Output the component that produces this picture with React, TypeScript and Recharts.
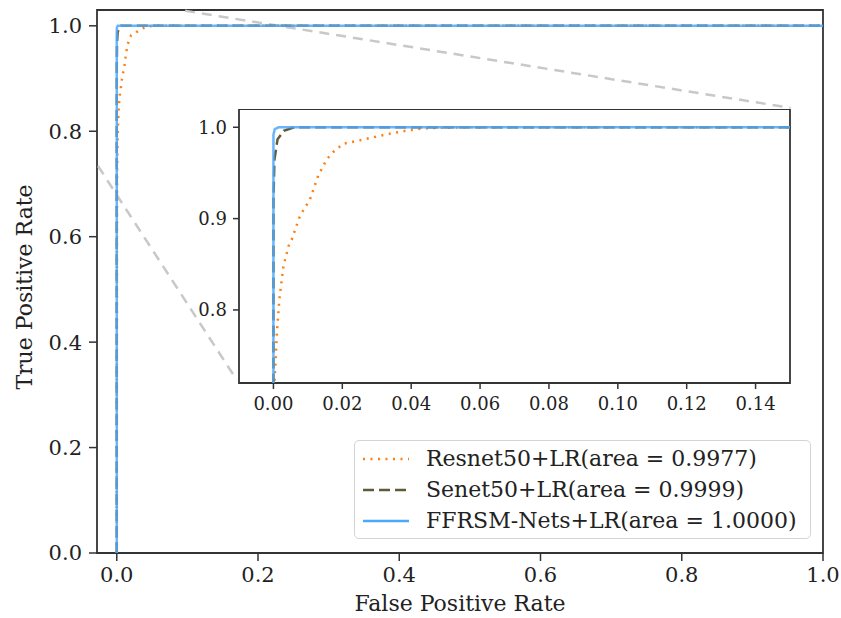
import React from 'react'
import { LineChart, Line, XAxis, YAxis, ReferenceArea, ReferenceLine, Legend } from 'recharts'

// ROC points (fpr, tpr)
const resnetFpr = [0, 0, 0.0003, 0.001, 0.0017, 0.0029, 0.0044, 0.0053, 0.0077, 0.0106, 0.013, 0.0155, 0.0174, 0.0203, 0.0242, 0.029, 0.0338, 0.0396, 0.0445, 0.055, 1]
const resnetTpr = [0, 0.3, 0.72, 0.775, 0.811, 0.848, 0.87, 0.877, 0.903, 0.921, 0.947, 0.965, 0.973, 0.982, 0.985, 0.989, 0.993, 0.997, 0.999, 1, 1]
const senetFpr = [0, 0, 0.0003, 0.0012, 0.003, 0.006, 1]
const senetTpr = [0, 0.92, 0.965, 0.987, 0.996, 1, 1]
const ffrsmFpr = [0, 0, 0.0004, 0.0015, 1]
const ffrsmTpr = [0, 0.992, 0.998, 1, 1]

const mainTicks = [0, 0.2, 0.4, 0.6, 0.8, 1.0]
const insetXTicks = [0, 0.02, 0.04, 0.06, 0.08, 0.1, 0.12, 0.14]
const insetYTicks = [0.8, 0.9, 1.0]

const toPoints = (fpr: number[], tpr: number[]) => fpr.map((x, i) => ({ x, y: tpr[i] }))

const series = [
  { name: 'Resnet50+LR(area = 0.9977)', data: toPoints(resnetFpr, resnetTpr), color: '#ff7f0e', dash: '2 5.5', opacity: 1 },
  { name: 'Senet50+LR(area = 0.9999)', data: toPoints(senetFpr, senetTpr), color: '#5f5a37', dash: '11 5', opacity: 1 },
  { name: 'FFRSM-Nets+LR(area = 1.0000)', data: toPoints(ffrsmFpr, ffrsmTpr), color: '#4fa8fa', dash: undefined, opacity: 0.85 },
]

const FONT = 'DejaVu Serif'
const INK = '#222'

const renderLegend = () => (
  <div style={{
    background: 'rgba(255,255,255,0.8)', border: '1.5px solid #d4d4d4', borderRadius: 5,
    width: 457, height: 99, boxSizing: 'border-box', paddingTop: 2,
  }}>
    {series.map(s => (
      <div key={s.name} style={{ display: 'flex', alignItems: 'center', height: 31 }}>
        <svg width={46} height={10} style={{ marginLeft: 8 }}>
          <line x1={0} y1={5} x2={46} y2={5} stroke={s.color} strokeWidth={2.5} strokeDasharray={s.dash} />
        </svg>
        <span style={{ marginLeft: 17, fontFamily: FONT, fontSize: 22, color: INK, lineHeight: '31px' }}>{s.name}</span>
      </div>
    ))}
  </div>
)

export default function App() {
  return (
    <div style={{ position: 'absolute', left: 0, top: 0, width: 841, height: 618, background: '#fff' }}>
      <LineChart width={841} height={618} margin={{ top: 10, right: 18, bottom: 5, left: 0 }}>
        <XAxis
          type="number" dataKey="x" domain={[-0.028, 1.0]} allowDataOverflow ticks={mainTicks}
          tickFormatter={(v: number) => v.toFixed(1)} axisLine={false}
          tickSize={8} tickMargin={6} tickLine={{ stroke: '#333', strokeWidth: 1.5 }}
          tick={{ fontSize: 21, fill: INK, fontFamily: FONT }} height={60}
          label={() => (
            <text x={460} y={611} textAnchor="middle" fontFamily={FONT} fontSize={22} fill={INK}>False Positive Rate</text>
          )}
        />
        <YAxis
          type="number" dataKey="y" domain={[0, 1.03]} allowDataOverflow ticks={mainTicks}
          tickFormatter={(v: number) => v.toFixed(1)} axisLine={false}
          tickSize={8} tickMargin={7} tickLine={{ stroke: '#333', strokeWidth: 1.5 }}
          tick={{ fontSize: 21, fill: INK, fontFamily: FONT }} width={97}
          label={() => (
            <text x={24} y={287} transform="rotate(-90 24 287)" textAnchor="middle" dominantBaseline="central"
              fontFamily={FONT} fontSize={22} fill={INK}>True Positive Rate</text>
          )}
        />
        <ReferenceArea x1={-0.028} x2={1.0} y1={0} y2={1.03} fill="none" stroke="#333" strokeWidth={1.8} ifOverflow="visible" />
        <ReferenceLine segment={[{ x: 0.0967, y: 1.0285 }, { x: 0.954, y: 0.8444 }]} stroke="#c8c8c8" strokeWidth={2.5} strokeDasharray="10 7" ifOverflow="visible" />
        <ReferenceLine segment={[{ x: -0.0265, y: 0.734 }, { x: 0.170, y: 0.328 }]} stroke="#c8c8c8" strokeWidth={2.5} strokeDasharray="10 7" ifOverflow="visible" />
        {series.map(s => (
          <Line key={s.name} name={s.name} data={s.data} dataKey="y" type="linear" dot={false}
            stroke={s.color} strokeWidth={2.5} strokeDasharray={s.dash} strokeOpacity={s.opacity}
            isAnimationActive={false} />
        ))}
        <Legend layout="vertical" align="center" verticalAlign="middle" content={renderLegend}
          wrapperStyle={{ left: 354, top: 440, width: 457 }} />
      </LineChart>

      <div style={{ position: 'absolute', left: 179, top: 109 }}>
        <LineChart width={612} height={314} margin={{ top: 0, right: 1, bottom: 0, left: 0 }}>
          <XAxis
            type="number" dataKey="x" domain={[-0.01, 0.15]} allowDataOverflow ticks={insetXTicks}
            tickFormatter={(v: number) => v.toFixed(2)} axisLine={false}
            tickSize={6} tickMargin={8} tickLine={{ stroke: '#333', strokeWidth: 1.5 }}
            tick={{ fontSize: 18, fill: INK, fontFamily: FONT }} height={40}
          />
          <YAxis
            type="number" dataKey="y" domain={[0.72, 1.02]} allowDataOverflow ticks={insetYTicks}
            tickFormatter={(v: number) => v.toFixed(1)} axisLine={false}
            tickSize={6} tickMargin={6} tickLine={{ stroke: '#333', strokeWidth: 1.5 }}
            tick={{ fontSize: 18, fill: INK, fontFamily: FONT }} width={60}
          />
          <ReferenceArea x1={-0.01} x2={0.15} y1={0.72} y2={1.02} fill="#fff" fillOpacity={1} stroke="#333" strokeWidth={1.8} ifOverflow="visible" />
          {series.map(s => (
            <Line key={s.name} name={s.name} data={s.data} dataKey="y" type="linear" dot={false}
              stroke={s.color} strokeWidth={2.5} strokeDasharray={s.dash} strokeOpacity={s.opacity}
              legendType="none" isAnimationActive={false} />
          ))}
        </LineChart>
      </div>
    </div>
  )
}
